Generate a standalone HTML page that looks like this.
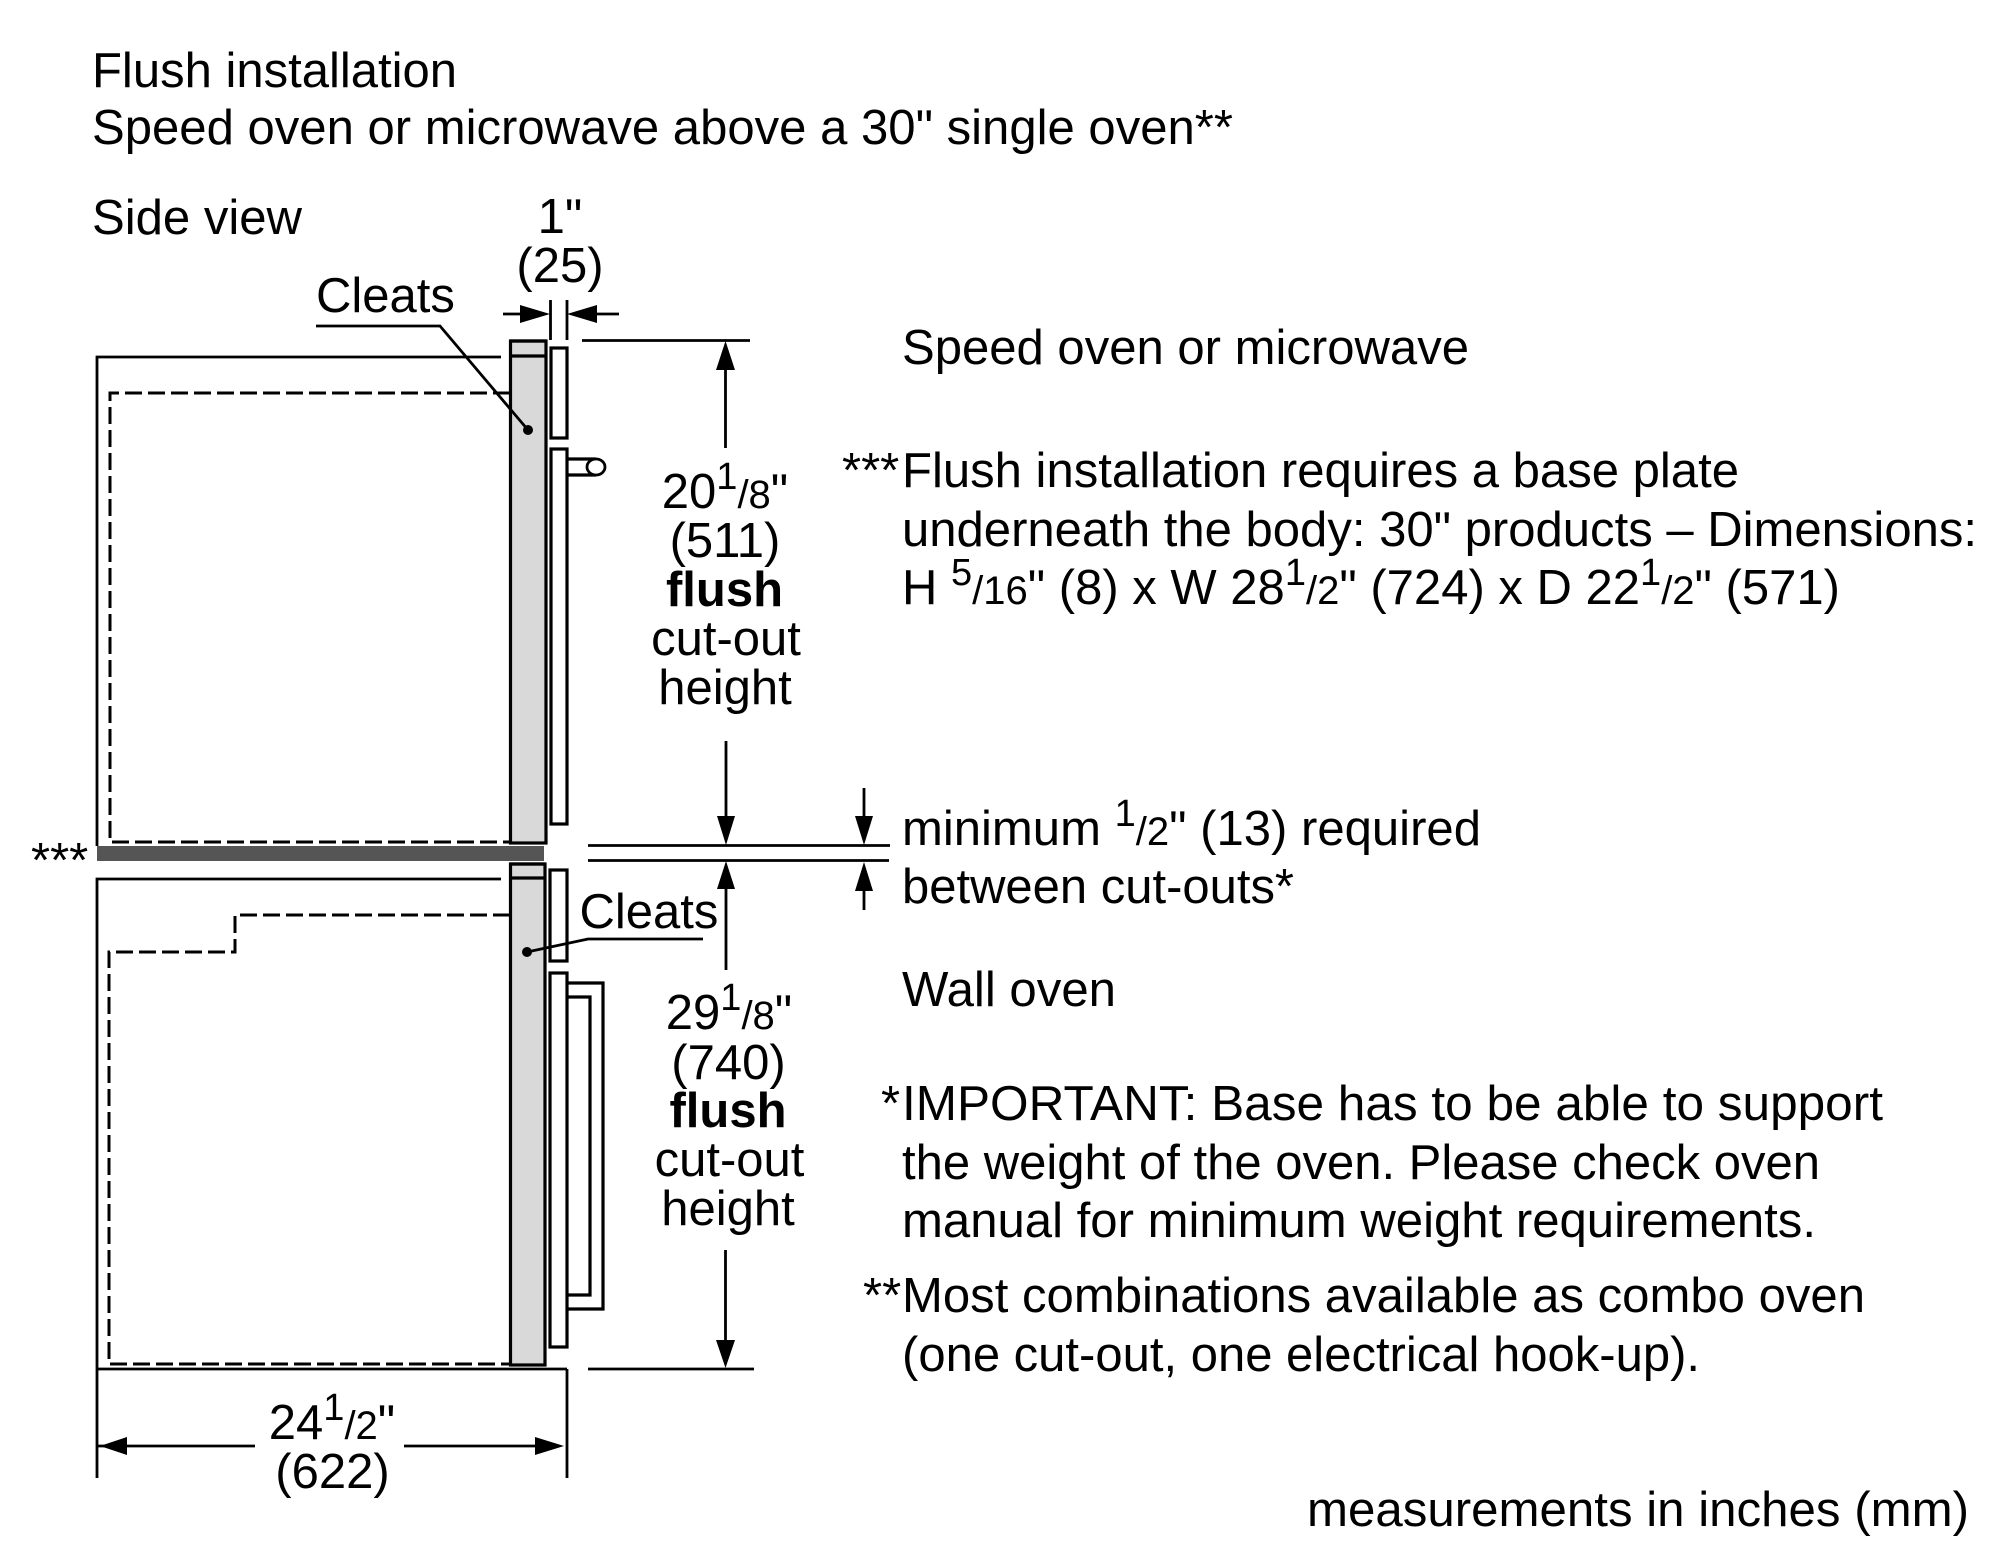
<!DOCTYPE html>
<html><head><meta charset="utf-8"><style>
html,body{margin:0;padding:0;background:#fff}
svg{display:block}
text{font-family:"Liberation Sans",Arial,sans-serif;font-size:49px;fill:#000}
.c{text-anchor:middle}
.n{font-size:38px}
.d{font-size:40px}
</style></head><body>
<svg xmlns="http://www.w3.org/2000/svg" width="2000" height="1565" viewBox="0 0 2000 1565">
<rect width="2000" height="1565" fill="#fff"/>
<g fill="none" stroke="#000" stroke-width="2.8">
<!-- upper cabinet -->
<path d="M501 357H97V846"/>
<path d="M510 393H110V842H510" stroke-dasharray="17 6" stroke-width="3"/>
<rect x="510.5" y="341" width="35.5" height="502" fill="#d9d9d9" stroke-width="3.2"/>
<path d="M510 341H546M510 356H546" stroke-width="3.2"/>
<rect x="551" y="348" width="16" height="90" stroke-width="3.2"/>
<rect x="551" y="449" width="16" height="375" stroke-width="3.2"/>
<path d="M567 459H596M567 475H596" stroke-width="3.2"/>
<ellipse cx="596" cy="467" rx="9" ry="8" fill="#fff"/>
<!-- base plate -->
<rect x="97" y="846" width="447" height="15" fill="#555" stroke="none"/>
<!-- lower cabinet -->
<path d="M501 879H97V1478"/>
<path d="M510 915H235V952H109V1364H510" stroke-dasharray="17 6" stroke-width="3"/>
<rect x="510.5" y="864" width="34.5" height="501" fill="#d9d9d9" stroke-width="3.2"/>
<path d="M510 864H545M510 878H545" stroke-width="3.2"/>
<rect x="550" y="870" width="17" height="91" stroke-width="3.2"/>
<rect x="550" y="973" width="17" height="374" stroke-width="3.2"/>
<path d="M567 983H603V1309H567M567 997H590V1295H567" stroke-width="3.2"/>
<path d="M97 1369H567M567 1369V1478" />
<!-- leaders -->
<path d="M316 326H440L528 430" stroke-width="2.8"/>
<path d="M527 952L588 939H703" stroke-width="2.8"/>
<!-- dimension lines -->
<path d="M550.5 300V340M567 300V340M503 314H525M619 314H590"/>
<path d="M582 340.5H750M725.5 365V448"/>
<path d="M726 741V820M726 885V970"/>
<path d="M588 845.5H890M588 860.5H889"/>
<path d="M864 788V820M864 885V910"/>
<path d="M97 1446H255"/><path d="M404 1446H540"/>
<path d="M588 1369H754M725.5 1250V1345"/>
</g>
<circle cx="528" cy="430" r="5" fill="#000"/>
<circle cx="527" cy="952" r="5" fill="#000"/>
<g fill="#000">
<path d="M550 314L520 305V323Z"/>
<path d="M567 314L597 305V323Z"/>
<path d="M725.5 341L716 370H735Z"/>
<path d="M726 845L717 816H735Z"/>
<path d="M726 861L717 889H735Z"/>
<path d="M864 845L855 816H873Z"/>
<path d="M864 862L855 891H873Z"/>
<path d="M100 1446L127 1437V1455Z"/>
<path d="M564 1446L535 1437V1455Z"/>
<path d="M725.5 1368L716 1340H735Z"/>
</g>
<!-- heading -->
<text x="92" y="87" textLength="365" lengthAdjust="spacingAndGlyphs">Flush installation</text>
<text x="92" y="144" textLength="1141" lengthAdjust="spacingAndGlyphs">Speed oven or microwave above a 30" single oven**</text>
<text x="92" y="234" textLength="210" lengthAdjust="spacingAndGlyphs">Side view</text>
<!-- left labels -->
<text x="560" y="233" class="c">1"</text>
<text x="560" y="282" class="c">(25)</text>
<text x="316" y="312">Cleats</text>
<text x="579.5" y="928">Cleats</text>
<text x="31" y="877">***</text>
<text x="725" y="508" class="c">20<tspan dy="-19" class="n">1</tspan><tspan dy="19" class="d">/8</tspan>"</text>
<text x="725" y="557" class="c">(511)</text>
<text x="724.5" y="606" class="c" style="font-weight:bold">flush</text>
<text x="726" y="655" class="c">cut-out</text>
<text x="725" y="704" class="c">height</text>
<text x="729" y="1029" class="c">29<tspan dy="-19" class="n">1</tspan><tspan dy="19" class="d">/8</tspan>"</text>
<text x="728.5" y="1079" class="c">(740)</text>
<text x="728" y="1127" class="c" style="font-weight:bold">flush</text>
<text x="729.5" y="1176" class="c">cut-out</text>
<text x="728" y="1225" class="c">height</text>
<text x="332" y="1439" class="c">24<tspan dy="-19" class="n">1</tspan><tspan dy="19" class="d">/2</tspan>"</text>
<text x="332.5" y="1488" class="c">(622)</text>
<!-- right text -->
<text x="902" y="364" textLength="567" lengthAdjust="spacingAndGlyphs">Speed oven or microwave</text>
<text x="842" y="487">***</text>
<text x="902" y="487" textLength="837" lengthAdjust="spacingAndGlyphs">Flush installation requires a base plate</text>
<text x="902" y="546" textLength="1075" lengthAdjust="spacingAndGlyphs">underneath the body: 30" products – Dimensions:</text>
<text x="902" y="604" textLength="938" lengthAdjust="spacingAndGlyphs">H <tspan dy="-19" class="n">5</tspan><tspan dy="19" class="d">/16</tspan>" (8) x W 28<tspan dy="-19" class="n">1</tspan><tspan dy="19" class="d">/2</tspan>" (724) x D 22<tspan dy="-19" class="n">1</tspan><tspan dy="19" class="d">/2</tspan>" (571)</text>
<text x="902" y="845" textLength="579" lengthAdjust="spacingAndGlyphs">minimum <tspan dy="-19" class="n">1</tspan><tspan dy="19" class="d">/2</tspan>" (13) required</text>
<text x="902" y="903" textLength="392" lengthAdjust="spacingAndGlyphs">between cut-outs*</text>
<text x="902" y="1006" textLength="214" lengthAdjust="spacingAndGlyphs">Wall oven</text>
<text x="881" y="1120">*</text>
<text x="902" y="1120" textLength="981" lengthAdjust="spacingAndGlyphs">IMPORTANT: Base has to be able to support</text>
<text x="902" y="1179" textLength="918" lengthAdjust="spacingAndGlyphs">the weight of the oven. Please check oven</text>
<text x="902" y="1237" textLength="914" lengthAdjust="spacingAndGlyphs">manual for minimum weight requirements.</text>
<text x="863" y="1312">**</text>
<text x="902" y="1312" textLength="963" lengthAdjust="spacingAndGlyphs">Most combinations available as combo oven</text>
<text x="902" y="1371" textLength="798" lengthAdjust="spacingAndGlyphs">(one cut-out, one electrical hook-up).</text>
<text x="1307" y="1526" textLength="662" lengthAdjust="spacingAndGlyphs">measurements in inches (mm)</text>
</svg>
</body></html>
